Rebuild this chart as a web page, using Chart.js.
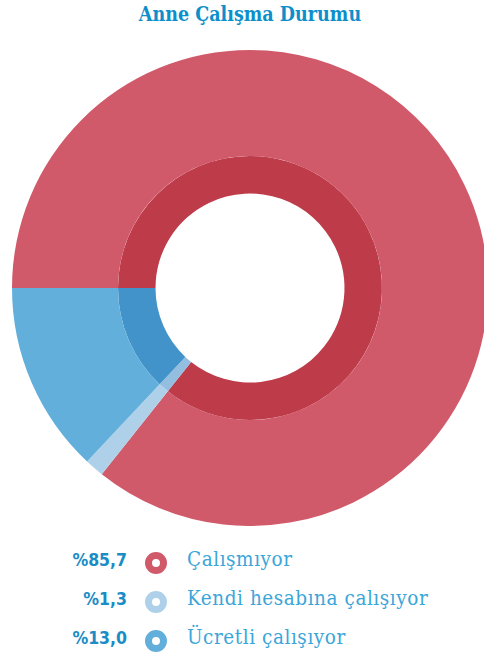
<!DOCTYPE html>
<html>
<head>
<meta charset="utf-8">
<script src="https://cdn.jsdelivr.net/npm/chart.js@4"></script>
<style>
  html, body { margin: 0; padding: 0; background: #fff; width: 484px; height: 656px; overflow: hidden; }
  #title { position: absolute; left: 0; top: 3px; width: 500px; text-align: center;
           font-family: "DejaVu Serif Condensed", "DejaVu Serif", serif; font-weight: bold; font-size: 19.5px; color: #0D8FCB; }
  #wrap { position: absolute; left: 12px; top: 50px; width: 476px; height: 476px; }
  #legend { position: absolute; left: 0; top: 546px; width: 484px; }
  .row { position: absolute; left: 0; height: 30px; width: 484px; }
  .pct { position: absolute; right: 357px; top: 4px; font-family: "DejaVu Sans Condensed", "DejaVu Sans", sans-serif;
         font-weight: bold; font-size: 17.5px; color: #1A8CC6; }
  .dot { position: absolute; left: 145px; top: 6px; width: 8px; height: 8px; border-radius: 50%;
         border: 7px solid #ccc; background: #fff; }
  .lbl { position: absolute; left: 187px; top: 1px; font-family: "DejaVu Serif Condensed", "DejaVu Serif", serif;
         font-weight: 300; font-size: 20.5px; letter-spacing: 0.55px; color: #3BA6D9; }
</style>
</head>
<body>
<div id="title">Anne Çalışma Durumu</div>
<div id="wrap"><canvas id="myChart"></canvas></div>
<div id="legend"></div>
<script>
// Veriler
const labels = ['Çalışmıyor', 'Kendi hesabına çalışıyor', 'Ücretli çalışıyor'];
const values = [85.7, 1.3, 13.0];
const pctLabels = ['%85,7', '%1,3', '%13,0'];
const outerColors = ['#D05A6A', '#AED1E9', '#63AFDB'];
const innerColors = ['#BE3B4A', '#93BEE0', '#4293CA'];

// Legend
const legend = document.getElementById('legend');
labels.forEach((name, i) => {
    const row = document.createElement('div');
    row.className = 'row';
    row.style.top = (i * 39) + 'px';
    row.innerHTML = `<span class="pct">${pctLabels[i]}</span>` +
        `<span class="dot" style="border-color:${outerColors[i]}"></span>` +
        `<span class="lbl">${name}</span>`;
    legend.appendChild(row);
});

const ctx = document.getElementById('myChart').getContext('2d');
new Chart(ctx, {
    type: 'doughnut',
    data: {
        labels: labels,
        datasets: [
            { data: values, backgroundColor: outerColors, borderWidth: 0, weight: 106 },
            { data: values, backgroundColor: innerColors, borderWidth: 0, weight: 37.5 }
        ]
    },
    options: {
        responsive: true,
        maintainAspectRatio: false,
        animation: false,
        rotation: -90,
        cutout: '39.7%',
        hoverOffset: 0,
        layout: { padding: 0 },
        plugins: {
            legend: { display: false },
            tooltip: { enabled: false },
            title: { display: false }
        }
    }
});
</script>
</body>
</html>
